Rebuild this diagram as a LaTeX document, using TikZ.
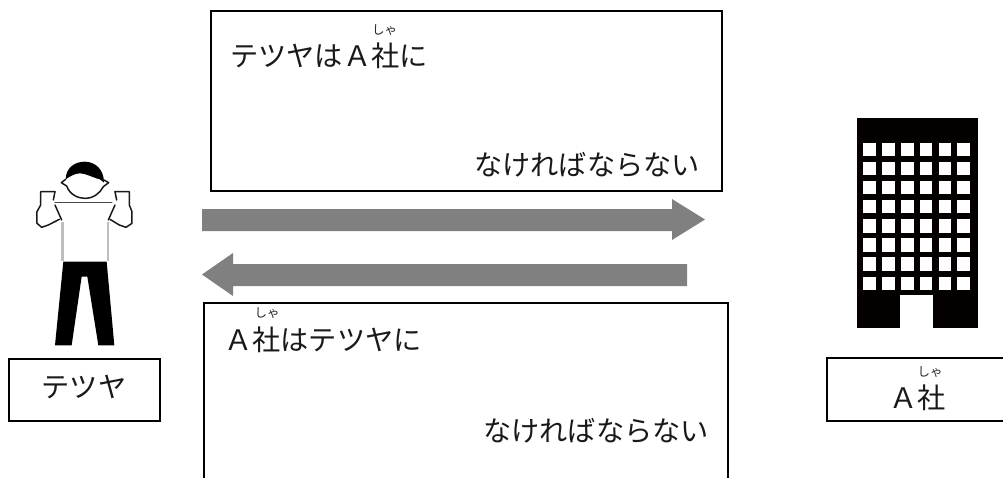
\documentclass[tikz,border=0pt]{standalone}
\usepackage{fontspec}
\setmainfont{Noto Sans CJK JP}
\tikzset{
  box/.style={draw=black,line width=1.6pt,fill=none},
  big/.style={inner sep=0pt,font=\fontsize{28.2}{30}\selectfont,text=black!90},
  ruby/.style={inner sep=0pt,font=\fontsize{12.5}{13}\selectfont,text=black!85},
  bigarrow/.style={draw=none,fill=black!50},
  ink/.style={draw=black!90,line width=1.5pt,line join=round,line cap=round,fill=none}
}
\begin{document}
\begin{tikzpicture}[x=1pt,y=-1pt]
\useasboundingbox (0,0) rectangle (1003,477);
\fill[white] (0,0) rectangle (1003,477);
% top box
\node[box,minimum width=511pt,minimum height=180pt,anchor=north west,inner sep=0pt] (topbox) at (210,10) {};
\node[big,anchor=west] (toptext) at (230,56) {テツヤはＡ社に};
\node[ruby] (topruby) at (384.5,30) {しゃ};
\node[big,anchor=east] (topend) at (700,165) {なければならない};
% bottom box (open at the picture's edge)
\coordinate (bl) at (204,478);
\coordinate (br) at (728,478);
\draw[box] (bl) |- (br |- 0,303) -- (br);
\node[big,anchor=west] (bottext) at (224,340) {Ａ社はテツヤに};
\node[ruby] (botruby) at (267,313) {しゃ};
\node[big,anchor=east] (botend) at (709,431) {なければならない};
% arrows
\fill[bigarrow] (202,209) -- (672,209) -- (672,199) -- (705,219.5) -- (672,240) -- (672,231) -- (202,231) -- cycle;
\fill[bigarrow] (687,264) -- (233,264) -- (233,253) -- (202,274.5) -- (233,296) -- (233,286) -- (687,286) -- cycle;
% person
\begin{scope}[shift={(0,140)},x=0.3333pt,y=-0.3333pt]
  \draw[black!25,line width=3pt] (189,245) -- (189,362);
  \draw[black!25,line width=2pt] (325,245) -- (325,362);
  \fill[black] (190,365) -- (320,365) -- (343,616) -- (295,616) -- (262,410) -- (245,410) -- (215,616) -- (165,616) -- cycle;
  \fill[black] (197,118) .. controls (198,82) and (225,65) .. (255,65) .. controls (288,66) and (312,90) .. (312,128) -- (300,118) .. controls (275,112) and (258,100) .. (240,100) .. controls (225,100) and (208,110) .. (197,118) -- cycle;
  \draw[ink] (197,118) -- (184,128) -- (200,138) .. controls (210,165) and (235,175) .. (255,175) .. controls (280,175) and (300,160) .. (310,140) -- (326,128) -- (312,120);
  \draw[ink,black!70] (165,188) -- (335,188);
  \draw[ink] (165,155) -- (122,155) -- (122,195) -- (111,215) -- (111,250) -- (125,262) -- (145,255) -- (178,238);
  \draw[ink] (165,155) -- (160,180);
  \draw[ink] (165,195) -- (185,240);
  \draw[ink] (345,155) -- (388,155) -- (388,195) -- (396,215) -- (396,250) -- (378,262) -- (358,255) -- (330,238);
  \draw[ink] (345,155) -- (350,180);
  \draw[ink] (345,195) -- (325,240);
\end{scope}
% building
\fill[black!98!red] (857,118) rectangle (978,328);
\foreach \c in {0,...,5}{\foreach \r in {0,...,7}{
  \fill[white] ({863.3+18.83*\c},{142.5+19.15*\r}) rectangle ++(12.6,13.4);
}}
\fill[white] (900,295) rectangle (933,328);
% name boxes
\node[box,minimum width=151pt,minimum height=62pt,anchor=north west,inner sep=0pt] (tetsuya) at (8,358) {};
\node[big] (tetsuyatext) at (84,387) {テツヤ};
\coordinate (cl) at (827,358);
\coordinate (cr) at (1005,421);
\draw[box] (cl) rectangle (cr);
\node[big] (ashatext) at (917.5,398) {Ａ社};
\node[ruby] (asharuby) at (930,372) {しゃ};
\end{tikzpicture}
\end{document}
